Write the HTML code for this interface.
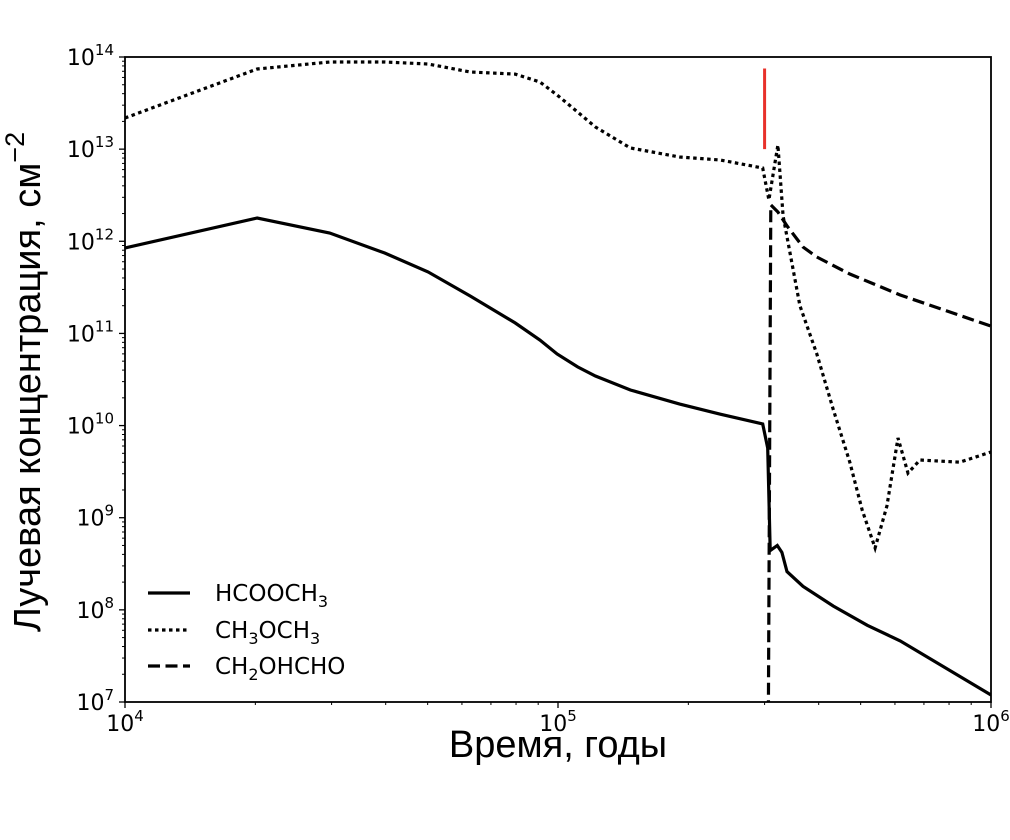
<!DOCTYPE html>
<html><head><meta charset="utf-8"><style>
body{margin:0;background:#fff}
svg text{font-family:"DejaVu Sans","Liberation Sans",sans-serif}
</style></head><body>
<svg id="chart" width="1010" height="835" xmlns="http://www.w3.org/2000/svg">
<defs><clipPath id="clip"><rect x="125" y="57" width="866" height="645"/></clipPath></defs>
<g id="plot" clip-path="url(#clip)"></g>
<g id="axes"></g>
</svg>
<script>
const hcoTimes=[1e4,2.02e4,2.97e4,3.98e4,5.01e4,6.27e4,7.96e4,9.08e4,9.95e4,1.11e5,1.22e5,1.47e5,1.91e5,2.37e5,2.97e5,3.05e5,3.09e5,3.21e5,3.29e5,3.38e5,3.68e5,4.32e5,5.18e5,6.17e5,1e6];
const hcoValues=[8.45e11,1.79e12,1.23e12,7.46e11,4.65e11,2.55e11,1.30e11,8.49e10,5.98e10,4.33e10,3.45e10,2.43e10,1.71e10,1.33e10,1.04e10,5.71e9,4.4e8,5.0e8,4.2e8,2.6e8,1.8e8,1.1e8,6.8e7,4.6e7,1.19e7];
const dmeTimes=[1e4,2.02e4,2.97e4,3.98e4,5.01e4,6.27e4,7.96e4,9.08e4,9.95e4,1.11e5,1.22e5,1.47e5,1.91e5,2.37e5,2.97e5,3.07e5,3.22e5,3.31e5,3.62e5,3.96e5,4.32e5,4.72e5,5.04e5,5.40e5,5.75e5,6.10e5,6.43e5,6.85e5,8.47e5,1e6];
const dmeValues=[2.18e13,7.41e13,8.83e13,8.83e13,8.39e13,6.87e13,6.53e13,5.36e13,3.87e13,2.53e13,1.74e13,1.03e13,8.22e12,7.62e12,6.24e12,2.81e12,1.11e13,1.88e12,2.0e11,6.0e10,1.5e10,4.0e9,1.21e9,4.69e8,1.34e9,7.33e9,3.05e9,4.23e9,4.0e9,5.16e9];
const gaTimes=[3.06e5,3.10e5,3.22e5,3.38e5,3.68e5,3.96e5,4.72e5,6.17e5,1e6];
const gaValues=[5e6,2.48e12,2.08e12,1.47e12,8.67e11,6.75e11,4.41e11,2.61e11,1.2e11];
const markerTime=3.0e5;
const markerRange=[1e13,7.5e13];
const yTickExps=[7,8,9,10,11,12,13,14];
const xTickExps=[4,5,6];

const NS="http://www.w3.org/2000/svg";
const X0=125,X1=991,Y0=702,Y1=57;
function xs(t){return X0+(Math.log10(t)-4)/2*(X1-X0);}
function ys(v){return Y0-(Math.log10(v)-7)/7*(Y0-Y1);}
function mk(tag,attrs,parent){const e=document.createElementNS(NS,tag);for(const k in attrs)e.setAttribute(k,attrs[k]);parent.appendChild(e);return e;}
const plot=document.getElementById('plot'),axes=document.getElementById('axes');
function line(ts,vs,dash,name){
  const d=ts.map((t,i)=>(i?'L':'M')+xs(t).toFixed(1)+','+ys(vs[i]).toFixed(1)).join('');
  const p=mk('path',{d:d,fill:'none',stroke:'#000','stroke-width':3.2,'stroke-dasharray':dash},plot);
  
  
}
line(hcoTimes,hcoValues,'none','hcooch3-line');
line(dmeTimes,dmeValues,'3.5,3.5','ch3och3-line');
line(gaTimes,gaValues,'12,5.5','ch2ohcho-line');
const red=mk('line',{x1:xs(markerTime),x2:xs(markerTime),y1:ys(markerRange[0]),y2:ys(markerRange[1]),stroke:'#e8312a','stroke-width':3},plot);



const frame=mk('rect',{x:X0,y:Y1,width:X1-X0,height:Y0-Y1,fill:'none',stroke:'#000','stroke-width':1.8},axes);


for(let e=4;e<6;e++)for(let m=2;m<10;m++){const x=xs(m*Math.pow(10,e));mk('line',{x1:x,x2:x,y1:Y0,y2:Y0+3,stroke:'#000','stroke-width':1},axes);}
for(let e=7;e<14;e++)for(let m=2;m<10;m++){const y=ys(m*Math.pow(10,e));mk('line',{x1:X0,x2:X0-3,y1:y,y2:y,stroke:'#000','stroke-width':1},axes);}
xTickExps.forEach(e=>{const x=xs(Math.pow(10,e));mk('line',{x1:x,x2:x,y1:Y0,y2:Y0+6,stroke:'#000','stroke-width':1.3},axes);
  const t=mk('text',{x:x,y:Y0+29,'font-size':22,'text-anchor':'middle'},axes);t.innerHTML='10<tspan dy="-10" font-size="15">'+e+'</tspan>';
  
  });
yTickExps.forEach(e=>{const y=ys(Math.pow(10,e));mk('line',{x1:X0,x2:X0-6,y1:y,y2:y,stroke:'#000','stroke-width':1.3},axes);
  const t=mk('text',{x:X0-11,y:y+8,'font-size':22,'text-anchor':'end'},axes);t.innerHTML='10<tspan dy="-10" font-size="15">'+e+'</tspan>';
  
  });
</script>
<svg style="position:absolute;left:0;top:0" width="1010" height="835" xmlns="http://www.w3.org/2000/svg">
<text x="558" y="757" font-size="38" text-anchor="middle" style="font-family:'Liberation Sans',sans-serif">Время, годы</text>
<text transform="translate(40,382) rotate(-90)" font-size="38" text-anchor="middle" style="font-family:'Liberation Sans',sans-serif">Лучевая концентрация, см<tspan dy="-16" font-size="27">−2</tspan></text>
<g style="font-family:'DejaVu Sans',sans-serif" font-size="23">
<g><line x1="148" x2="190" y1="593" y2="593" stroke="#000" stroke-width="3.2"/><text x="215" y="601">HCOOCH<tspan dy="6" font-size="16">3</tspan></text></g>
<g><line x1="148" x2="190" y1="630" y2="630" stroke="#000" stroke-width="3.2" stroke-dasharray="3.5,3.5"/><text x="215" y="638">CH<tspan dy="6" font-size="16">3</tspan><tspan dy="-6">OCH</tspan><tspan dy="6" font-size="16">3</tspan></text></g>
<g><line x1="148" x2="190" y1="666" y2="666" stroke="#000" stroke-width="3.2" stroke-dasharray="12,5.5"/><text x="215" y="674">CH<tspan dy="6" font-size="16">2</tspan><tspan dy="-6">OHCHO</tspan></text></g>
</g>
</svg>
</body></html>
